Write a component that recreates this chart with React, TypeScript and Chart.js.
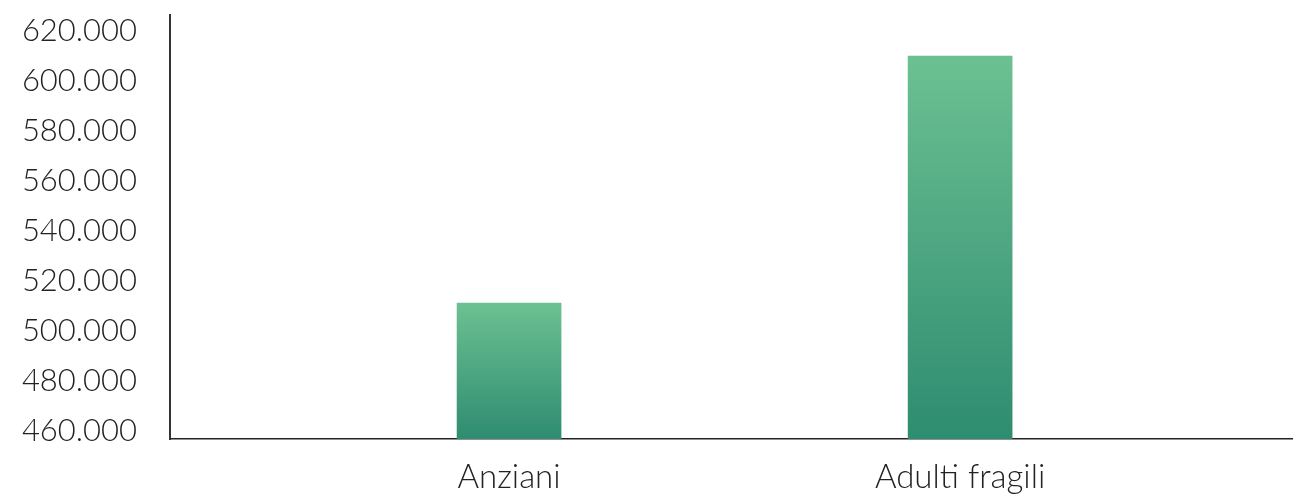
import React, { useEffect, useRef } from "react";
import { Chart, registerables } from "chart.js";

Chart.register(...registerables);

const categories = ["Anziani", "Adulti fragili"];
const values = [511200, 610000];
const yTicks = [460000, 480000, 500000, 520000, 540000, 560000, 580000, 600000, 620000];
const yMin = 456800;
const yMax = 626400;
const xMin = 0.2483;
const xMax = 2.738;

const fmt = (v: number) => String(Math.round(v)).replace(/\B(?=(\d{3})+(?!\d))/g, ".");

export default function App() {
  const ref = useRef<HTMLCanvasElement | null>(null);

  useEffect(() => {
    if (!ref.current) return;
    const chart = new Chart(ref.current, {
      type: "bar",
      data: {
        datasets: [
          {
            data: values.map((v, i) => ({ x: i + 1, y: v })),
            barThickness: 104,
            borderWidth: 0,
            backgroundColor: (ctx: any) => {
              const c = ctx.chart;
              if (!c.chartArea || !ctx.raw) return "#4fa882";
              const top = c.scales.y.getPixelForValue(ctx.raw.y);
              const bottom = c.chartArea.bottom;
              const g = c.ctx.createLinearGradient(0, top, 0, bottom);
              g.addColorStop(0, "#6cc192");
              g.addColorStop(1, "#2e8c70");
              return g;
            },
          },
        ],
      },
      options: {
        animation: false,
        responsive: true,
        maintainAspectRatio: false,
        layout: { padding: 0 },
        plugins: { legend: { display: false }, tooltip: { enabled: false } },
        scales: {
          x: {
            type: "linear",
            offset: false,
            min: xMin,
            max: xMax,
            grid: { display: false, drawTicks: false },
            border: { display: true, color: "#222", width: 1.5 },
            afterBuildTicks: (s: any) => {
              s.ticks = categories.map((_, i) => ({ value: i + 1 }));
            },
            afterFit: (s: any) => {
              s.height = 56;
            },
            ticks: {
              autoSkip: false,
              maxRotation: 0,
              padding: 19,
              color: "#222",
              font: { family: "Lato", size: 33, weight: 300 },
              callback: (v: any) => categories[Math.round(Number(v)) - 1] ?? "",
            },
          },
          y: {
            type: "linear",
            min: yMin,
            max: yMax,
            grid: { display: false, drawTicks: true, tickLength: 33 },
            border: { display: true, color: "#333", width: 2 },
            afterBuildTicks: (s: any) => {
              s.ticks = yTicks.map((v) => ({ value: v }));
            },
            afterFit: (s: any) => {
              s.width = 170;
            },
            ticks: {
              padding: 0,
              color: "#222",
              font: { family: "Lato", size: 31, weight: 300, lineHeight: 0.97 },
              callback: (v: any) => fmt(Number(v)),
            },
          },
        },
      },
    });
    return () => chart.destroy();
  }, []);

  return (
    <div style={{ position: "absolute", left: 0, top: 0, width: 1293, height: 495, background: "#fff" }}>
      <canvas ref={ref} />
    </div>
  );
}
